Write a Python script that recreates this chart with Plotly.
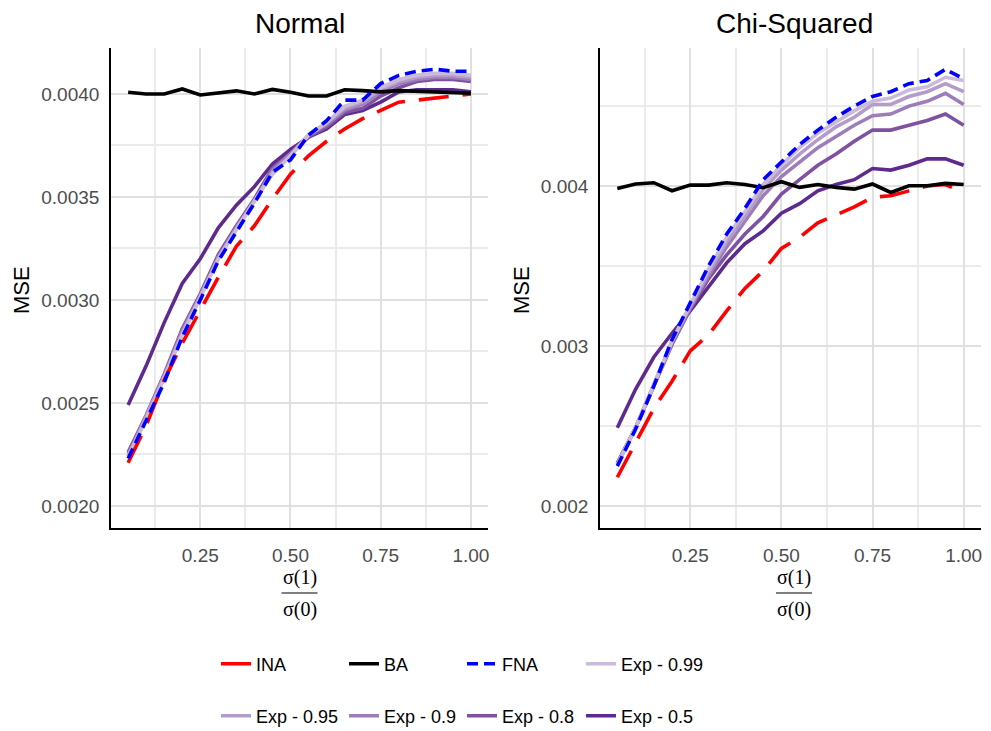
import plotly.graph_objects as go

# The page body has an 8px margin; the visible drawing area is 975 px wide from x=8
PAGE_OFF = 8
W, H = 991 - 2 * PAGE_OFF, 731 - PAGE_OFF

ratio = [0.05, 0.10, 0.15, 0.20, 0.25, 0.30, 0.35, 0.40, 0.45, 0.50,
         0.55, 0.60, 0.65, 0.70, 0.75, 0.80, 0.85, 0.90, 0.95, 1.00]

# ---- Normal panel ----
ina_normal = [0.00221, 0.00239, 0.00261, 0.00279, 0.00295, 0.00311, 0.00326, 0.00336, 0.00349, 0.00361,
              0.00370, 0.00377, 0.00383, 0.00388, 0.00392, 0.00396, 0.00397, 0.00398, 0.00399, 0.00400]
ba_normal = [0.004008, 0.004000, 0.004000, 0.004024, 0.003995, 0.004003, 0.004015, 0.004000, 0.004022, 0.004008,
             0.003990, 0.003990, 0.004020, 0.004016, 0.004010, 0.004016, 0.004012, 0.004010, 0.004007, 0.004003]
fna_normal = [0.00223, 0.00241, 0.00260, 0.00282, 0.00300, 0.00319, 0.00333, 0.00347, 0.00362, 0.00368,
              0.00380, 0.00387, 0.00397, 0.00397, 0.00405, 0.00409, 0.00411, 0.00412, 0.00411, 0.00411]
exp99_normal = [0.00224, 0.00242, 0.00262, 0.00283, 0.00301, 0.00320, 0.00334, 0.00348, 0.00361, 0.00370,
                0.00380, 0.00386, 0.00394, 0.00397, 0.00403, 0.00407, 0.00409, 0.00410, 0.00410, 0.00409]
exp95_normal = [0.00224, 0.00243, 0.00263, 0.00284, 0.00302, 0.00320, 0.00335, 0.00348, 0.00362, 0.00370,
                0.00380, 0.00386, 0.00393, 0.00396, 0.00402, 0.00406, 0.00408, 0.00409, 0.00409, 0.00408]
exp90_normal = [0.00225, 0.00243, 0.00263, 0.00285, 0.00302, 0.00321, 0.00335, 0.00348, 0.00363, 0.00371,
                0.00380, 0.00385, 0.00392, 0.00395, 0.00401, 0.00405, 0.00407, 0.00408, 0.00408, 0.00407]
exp80_normal = [0.00226, 0.00244, 0.00264, 0.00286, 0.00303, 0.00322, 0.00336, 0.00349, 0.00364, 0.00371,
                0.00379, 0.00384, 0.00391, 0.00393, 0.00399, 0.00403, 0.00406, 0.00407, 0.00407, 0.00406]
exp50_normal = [0.00249, 0.00268, 0.00289, 0.00308, 0.00320, 0.00335, 0.00346, 0.00355, 0.00366, 0.00373,
                0.00379, 0.00383, 0.00390, 0.00392, 0.00396, 0.00401, 0.00402, 0.00402, 0.00402, 0.00401]

# ---- Chi-Squared panel ----
ina_chisq = [0.00218, 0.00240, 0.00261, 0.00278, 0.00297, 0.00307, 0.00322, 0.00336, 0.00347, 0.00361,
             0.00368, 0.00377, 0.00382, 0.00387, 0.00393, 0.00394, 0.00397, 0.00400, 0.00401, 0.00396]
ba_chisq = [0.003985, 0.004013, 0.004021, 0.003971, 0.004006, 0.004006, 0.004021, 0.004010, 0.003990, 0.004027,
            0.003992, 0.004010, 0.003992, 0.003981, 0.004013, 0.003960, 0.004002, 0.004002, 0.004017, 0.004010]
fna_chisq = [0.00225, 0.00248, 0.00275, 0.00304, 0.00327, 0.00350, 0.00370, 0.00386, 0.00404, 0.00415,
             0.00426, 0.00435, 0.00443, 0.00450, 0.00456, 0.00459, 0.00464, 0.00466, 0.00473, 0.00467]
exp99_chisq = [0.00226, 0.00249, 0.00276, 0.00303, 0.00326, 0.00348, 0.00368, 0.00384, 0.00401, 0.00413,
               0.00424, 0.00433, 0.00440, 0.00447, 0.00453, 0.00455, 0.00460, 0.00462, 0.00468, 0.00466]
exp95_chisq = [0.00226, 0.00249, 0.00276, 0.00303, 0.00325, 0.00346, 0.00365, 0.00381, 0.00398, 0.00410,
               0.00420, 0.00429, 0.00437, 0.00443, 0.00451, 0.00451, 0.00456, 0.00459, 0.00464, 0.00459]
exp90_chisq = [0.00226, 0.00249, 0.00275, 0.00302, 0.00324, 0.00344, 0.00362, 0.00378, 0.00394, 0.00406,
               0.00415, 0.00424, 0.00431, 0.00438, 0.00444, 0.00445, 0.00450, 0.00453, 0.00458, 0.00451]
exp80_chisq = [0.00227, 0.00249, 0.00275, 0.00301, 0.00323, 0.00342, 0.00357, 0.00370, 0.00381, 0.00395,
               0.00404, 0.00413, 0.00420, 0.00428, 0.00435, 0.00435, 0.00438, 0.00441, 0.00445, 0.00438]
exp50_chisq = [0.00249, 0.00273, 0.00293, 0.00308, 0.00322, 0.00337, 0.00352, 0.00364, 0.00372, 0.00383,
               0.00389, 0.00397, 0.00401, 0.00404, 0.00411, 0.00410, 0.00413, 0.00417, 0.00417, 0.00413]

panel_titles = ["Normal", "Chi-Squared"]
x_ticks = [0.25, 0.50, 0.75, 1.00]
x_tick_text = ["0.25", "0.50", "0.75", "1.00"]
y_ticks_normal = [0.0020, 0.0025, 0.0030, 0.0035, 0.0040]
y_tick_text_normal = ["0.0020", "0.0025", "0.0030", "0.0035", "0.0040"]
y_ticks_chisq = [0.002, 0.003, 0.004]
y_tick_text_chisq = ["0.002", "0.003", "0.004"]

# series: name, color, dash, legend rank, legend id
series = [
    ("INA", "#FF0000", "30px,14px", 1, "legend"),
    ("BA", "#000000", "solid", 2, "legend2"),
    ("FNA", "#0000FF", "11px,6px", 3, "legend3"),
    ("Exp - 0.99", "#CBBAD9", "solid", 4, "legend4"),
    ("Exp - 0.95", "#B49CC8", "solid", 5, "legend5"),
    ("Exp - 0.9", "#9C7CB9", "solid", 6, "legend6"),
    ("Exp - 0.8", "#7F52A1", "solid", 7, "legend7"),
    ("Exp - 0.5", "#5E2A8D", "solid", 8, "legend8"),
]
data_normal = {"INA": ina_normal, "BA": ba_normal, "FNA": fna_normal,
               "Exp - 0.99": exp99_normal, "Exp - 0.95": exp95_normal, "Exp - 0.9": exp90_normal,
               "Exp - 0.8": exp80_normal, "Exp - 0.5": exp50_normal}
data_chisq = {"INA": ina_chisq, "BA": ba_chisq, "FNA": fna_chisq,
              "Exp - 0.99": exp99_chisq, "Exp - 0.95": exp95_chisq, "Exp - 0.9": exp90_chisq,
              "Exp - 0.8": exp80_chisq, "Exp - 0.5": exp50_chisq}

draw_order = ["Exp - 0.5", "Exp - 0.8", "Exp - 0.9", "Exp - 0.95", "Exp - 0.99", "INA", "BA", "FNA"]
info = {s[0]: s for s in series}

fig = go.Figure()
for panel, (dset, xa, ya) in enumerate([(data_normal, "x", "y"), (data_chisq, "x2", "y2")]):
    for name in draw_order:
        _, color, dash, rank, leg = info[name]
        fig.add_trace(go.Scatter(
            x=ratio, y=dset[name], mode="lines", name=name,
            line=dict(color=color, width=3.6, dash=dash),
            xaxis=xa, yaxis=ya, legend=leg, legendrank=rank,
            showlegend=(panel == 0), hoverinfo="skip"))

FONT = "Liberation Sans, Arial, sans-serif"
TICKCOL = "#4D4D4D"
GRID = "#E0E0E0"
GRID_MINOR = "#EBEBEB"


def px_x(p):
    """page pixel x -> paper fraction"""
    return (p - PAGE_OFF) / W


def px_y(p):
    """page pixel y -> paper fraction"""
    return 1 - (p - PAGE_OFF) / H


top_px, bot_px = 48, 528
left_dom = [px_x(111), px_x(488)]
right_dom = [px_x(600), px_x(981)]
ydom = [px_y(bot_px), px_y(top_px)]

common_x = dict(
    range=[0.0025, 1.0475], tickvals=x_ticks, ticktext=x_tick_text,
    showgrid=True, gridcolor=GRID, gridwidth=1.8,
    minor=dict(tickvals=[0.125, 0.375, 0.625, 0.875], showgrid=True, gridcolor=GRID_MINOR, gridwidth=1.5),
    showline=True, linecolor="black", linewidth=1.6, zeroline=False, ticks="",
    tickfont=dict(family=FONT, size=19, color=TICKCOL), ticklabelstandoff=9,
    ticklabeloverflow="allow",
)
common_y = dict(
    showgrid=True, gridcolor=GRID, gridwidth=1.8,
    showline=True, linecolor="black", linewidth=1.6, zeroline=False, ticks="",
    tickfont=dict(family=FONT, size=19, color=TICKCOL), ticklabelstandoff=6,
)

fig.update_layout(
    width=W, height=H, margin=dict(l=0, r=0, t=0, b=0, autoexpand=False),
    paper_bgcolor="white", plot_bgcolor="white",
    xaxis=dict(domain=left_dom, anchor="y", **common_x),
    xaxis2=dict(domain=right_dom, anchor="y2", **common_x),
    yaxis=dict(domain=ydom, anchor="x", range=[0.001893, 0.004223],
               tickvals=y_ticks_normal, ticktext=y_tick_text_normal,
               minor=dict(tickvals=[0.00225, 0.00275, 0.00325, 0.00375], showgrid=True,
                          gridcolor=GRID_MINOR, gridwidth=1.5),
               **common_y),
    yaxis2=dict(domain=ydom, anchor="x2", range=[0.001863, 0.004863],
                tickvals=y_ticks_chisq, ticktext=y_tick_text_chisq,
                minor=dict(tickvals=[0.0025, 0.0035, 0.0045], showgrid=True,
                           gridcolor=GRID_MINOR, gridwidth=1.5),
                **common_y),
    showlegend=True,
)

# legends: one per entry, placed on a 2x4 grid
col_px = [216, 344, 462, 581]
row_px = [664, 716]
legend_ids = ["legend", "legend2", "legend3", "legend4", "legend5", "legend6", "legend7", "legend8"]
leg_layout = {}
for i, lid in enumerate(legend_ids):
    r, c = divmod(i, 4)
    leg_layout[lid] = dict(
        x=px_x(col_px[c]), y=px_y(row_px[r]), xanchor="left", yanchor="middle",
        orientation="h", bgcolor="rgba(0,0,0,0)", borderwidth=0,
        font=dict(family=FONT, size=18, color="black"), itemwidth=30,
    )
fig.update_layout(**leg_layout)

# panel titles
centers = [(111 + 488) / 2, (600 + 988) / 2]
for t, cx in zip(panel_titles, centers):
    fig.add_annotation(text=t, x=px_x(cx), y=px_y(23), xref="paper", yref="paper",
                       showarrow=False, font=dict(family=FONT, size=28, color="black"),
                       xanchor="center", yanchor="middle")

# y-axis titles
for tx in [22, 522]:
    fig.add_annotation(text="MSE", x=px_x(tx), y=px_y(290), xref="paper", yref="paper",
                       showarrow=False, textangle=-90, font=dict(family=FONT, size=22, color="black"),
                       xanchor="center", yanchor="middle")

# x-axis titles as fractions
SERIF = "Liberation Serif, Times New Roman, serif"
for cx in centers:
    fig.add_annotation(text="σ(1)", x=px_x(cx), y=px_y(577), xref="paper", yref="paper",
                       showarrow=False, font=dict(family=SERIF, size=20, color="black"),
                       xanchor="center", yanchor="middle")
    fig.add_annotation(text="σ(0)", x=px_x(cx), y=px_y(609), xref="paper", yref="paper",
                       showarrow=False, font=dict(family=SERIF, size=20, color="black"),
                       xanchor="center", yanchor="middle")
    fig.add_shape(type="line", xref="paper", yref="paper",
                  x0=px_x(cx - 18), x1=px_x(cx + 18), y0=px_y(593), y1=px_y(593),
                  line=dict(color="black", width=1.2))

fig.write_html("out.html")
